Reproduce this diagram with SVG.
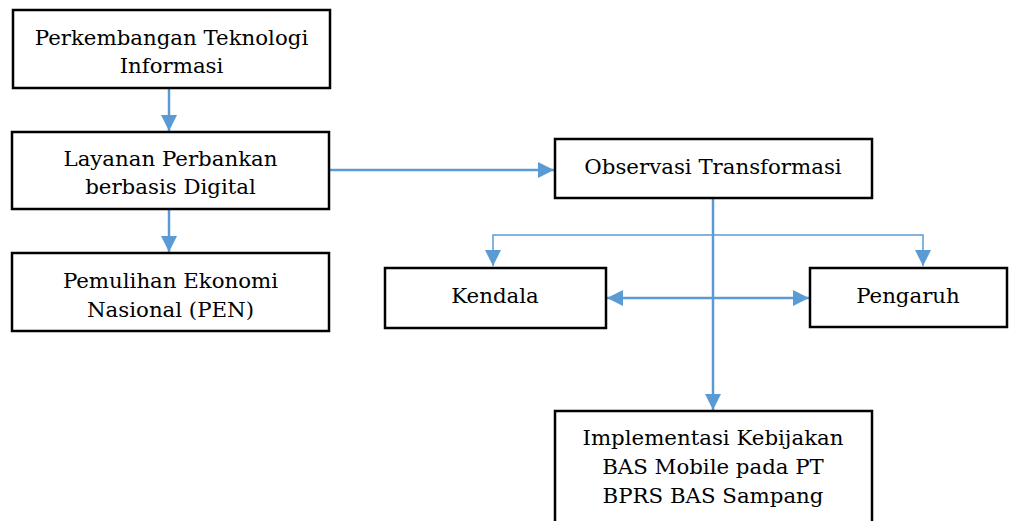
<svg xmlns="http://www.w3.org/2000/svg" width="1019" height="521" viewBox="0 0 1019 521">
<style>
.box{fill:#fff;stroke:#000;stroke-width:2.5}
.t{font-family:"DejaVu Serif","Liberation Serif",serif;font-size:21.3px;fill:#000;text-anchor:middle}
.c{fill:none;stroke:#5B9BD5;stroke-width:2.5}
.c2{fill:none;stroke:#5B9BD5;stroke-width:1.5}
</style>
<defs>
<marker id="ah2" viewBox="0 0 10 10" refX="10" refY="5" markerWidth="16" markerHeight="16" orient="auto-start-reverse" markerUnits="userSpaceOnUse">
<path d="M0,0 L10,5 L0,10 Z" fill="#5B9BD5"/>
</marker>
</defs>
<g id="connectors">
<line class="c" x1="169" y1="89" x2="169" y2="131" marker-end="url(#ah2)"/>
<line class="c" x1="169" y1="210" x2="169" y2="252" marker-end="url(#ah2)"/>
<line class="c" x1="330" y1="170" x2="554" y2="170" marker-end="url(#ah2)"/>
<line class="c" x1="713" y1="199" x2="713" y2="410" marker-end="url(#ah2)"/>
<polyline class="c2" points="493,266 493,235 923,235 923,266" marker-start="url(#ah2)" marker-end="url(#ah2)"/>
<line class="c" x1="607" y1="298" x2="809" y2="298" marker-start="url(#ah2)" marker-end="url(#ah2)"/>
</g>
<g id="node1"><rect class="box" x="13" y="10" width="317" height="78"/><text class="t" x="171.5" y="45">Perkembangan Teknologi</text><text class="t" x="171.5" y="73">Informasi</text></g>
<g id="node2"><rect class="box" x="12" y="132" width="317" height="77"/><text class="t" x="170.5" y="166">Layanan Perbankan</text><text class="t" x="170.5" y="194">berbasis Digital</text></g>
<g id="node3"><rect class="box" x="12" y="253" width="317" height="78"/><text class="t" x="170.5" y="288">Pemulihan Ekonomi</text><text class="t" x="170.5" y="317">Nasional (PEN)</text></g>
<g id="node4"><rect class="box" x="555" y="139" width="317" height="59"/><text class="t" x="713" y="174">Observasi Transformasi</text></g>
<g id="node5"><rect class="box" x="385" y="268" width="221" height="60"/><text class="t" x="495" y="303">Kendala</text></g>
<g id="node6"><rect class="box" x="810" y="268" width="197" height="59"/><text class="t" x="908" y="303">Pengaruh</text></g>
<g id="node7"><rect class="box" x="555" y="411" width="317" height="120"/><text class="t" x="713" y="445">Implementasi Kebijakan</text><text class="t" x="713" y="474">BAS Mobile pada PT</text><text class="t" x="713" y="503">BPRS BAS Sampang</text></g>
</svg>
